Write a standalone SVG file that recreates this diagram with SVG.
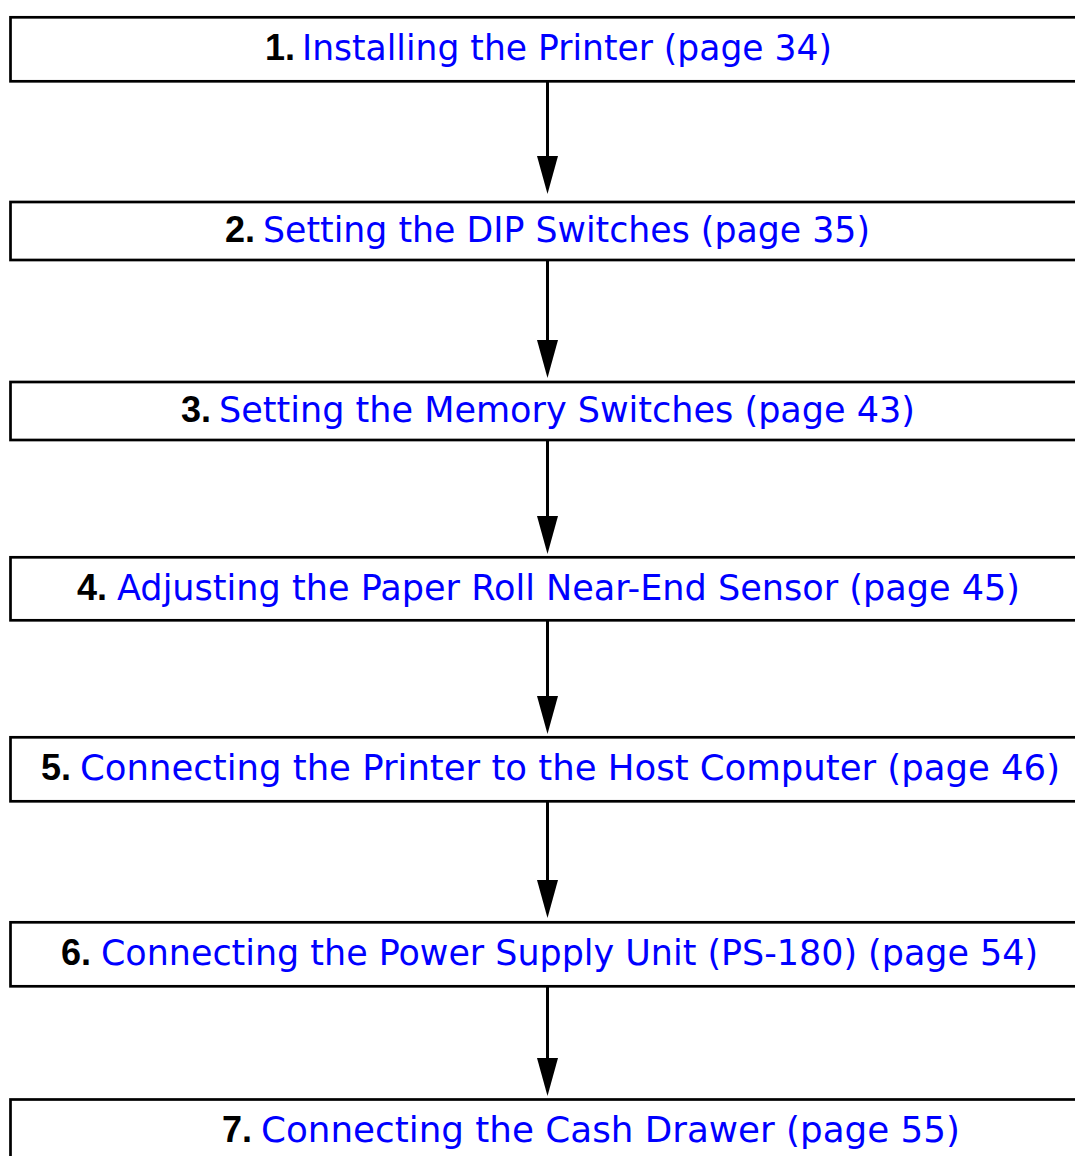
<svg xmlns="http://www.w3.org/2000/svg" width="1075" height="1156" viewBox="0 0 1075 1156">
<style>
.box{fill:#fff;stroke:#000;stroke-width:2.7}
.num{font-family:"Liberation Sans",Arial,sans-serif;font-weight:bold;font-size:36px;fill:#000}
.lbl{font-family:"DejaVu Sans","Liberation Sans",sans-serif;font-size:35px;fill:#0000ff}
.conn{stroke:#000;stroke-width:3;fill:none}
</style>
<defs>
<marker id="ah" markerUnits="userSpaceOnUse" markerWidth="38" markerHeight="22" viewBox="0 0 38 22" refX="26" refY="11" orient="auto">
<path d="M0,0.5 L38,11 L0,21.5 z" fill="#000"/>
</marker>
</defs>
<rect width="1075" height="1156" fill="#fff"/>
<g id="connectors">
<line class="conn" x1="547.5" y1="81" x2="547.5" y2="182" marker-end="url(#ah)"/>
<line class="conn" x1="547.5" y1="261" x2="547.5" y2="366" marker-end="url(#ah)"/>
<line class="conn" x1="547.5" y1="441" x2="547.5" y2="542" marker-end="url(#ah)"/>
<line class="conn" x1="547.5" y1="621" x2="547.5" y2="722" marker-end="url(#ah)"/>
<line class="conn" x1="547.5" y1="802" x2="547.5" y2="906" marker-end="url(#ah)"/>
<line class="conn" x1="547.5" y1="987" x2="547.5" y2="1084" marker-end="url(#ah)"/>
</g>
<g id="node1">
<rect class="box" x="10.5" y="17.3" width="1090" height="64"/>
<text class="num" x="265" y="60">1.</text>
<text class="lbl" x="302" y="60" textLength="530" lengthAdjust="spacingAndGlyphs">Installing the Printer (page 34)</text>
</g>
<g id="node2">
<rect class="box" x="10.5" y="202" width="1090" height="58"/>
<text class="num" x="225" y="242">2.</text>
<text class="lbl" x="263" y="242" textLength="607" lengthAdjust="spacingAndGlyphs">Setting the DIP Switches (page 35)</text>
</g>
<g id="node3">
<rect class="box" x="10.5" y="382" width="1090" height="58"/>
<text class="num" x="181" y="422">3.</text>
<text class="lbl" x="219" y="422" textLength="696" lengthAdjust="spacingAndGlyphs">Setting the Memory Switches (page 43)</text>
</g>
<g id="node4">
<rect class="box" x="10.5" y="557.3" width="1090" height="63"/>
<text class="num" x="77" y="600">4.</text>
<text class="lbl" x="117" y="600" textLength="903" lengthAdjust="spacingAndGlyphs">Adjusting the Paper Roll Near-End Sensor (page 45)</text>
</g>
<g id="node5">
<rect class="box" x="10.5" y="737.3" width="1090" height="64"/>
<text class="num" x="41" y="780">5.</text>
<text class="lbl" x="80" y="780" textLength="980" lengthAdjust="spacingAndGlyphs">Connecting the Printer to the Host Computer (page 46)</text>
</g>
<g id="node6">
<rect class="box" x="10.5" y="922.3" width="1090" height="64"/>
<text class="num" x="61" y="965">6.</text>
<text class="lbl" x="101" y="965" textLength="937" lengthAdjust="spacingAndGlyphs">Connecting the Power Supply Unit (PS-180) (page 54)</text>
</g>
<g id="node7">
<rect class="box" x="10.5" y="1099.5" width="1090" height="80"/>
<text class="num" x="222" y="1142">7.</text>
<text class="lbl" x="261" y="1142" textLength="699" lengthAdjust="spacingAndGlyphs">Connecting the Cash Drawer (page 55)</text>
</g>
</svg>
